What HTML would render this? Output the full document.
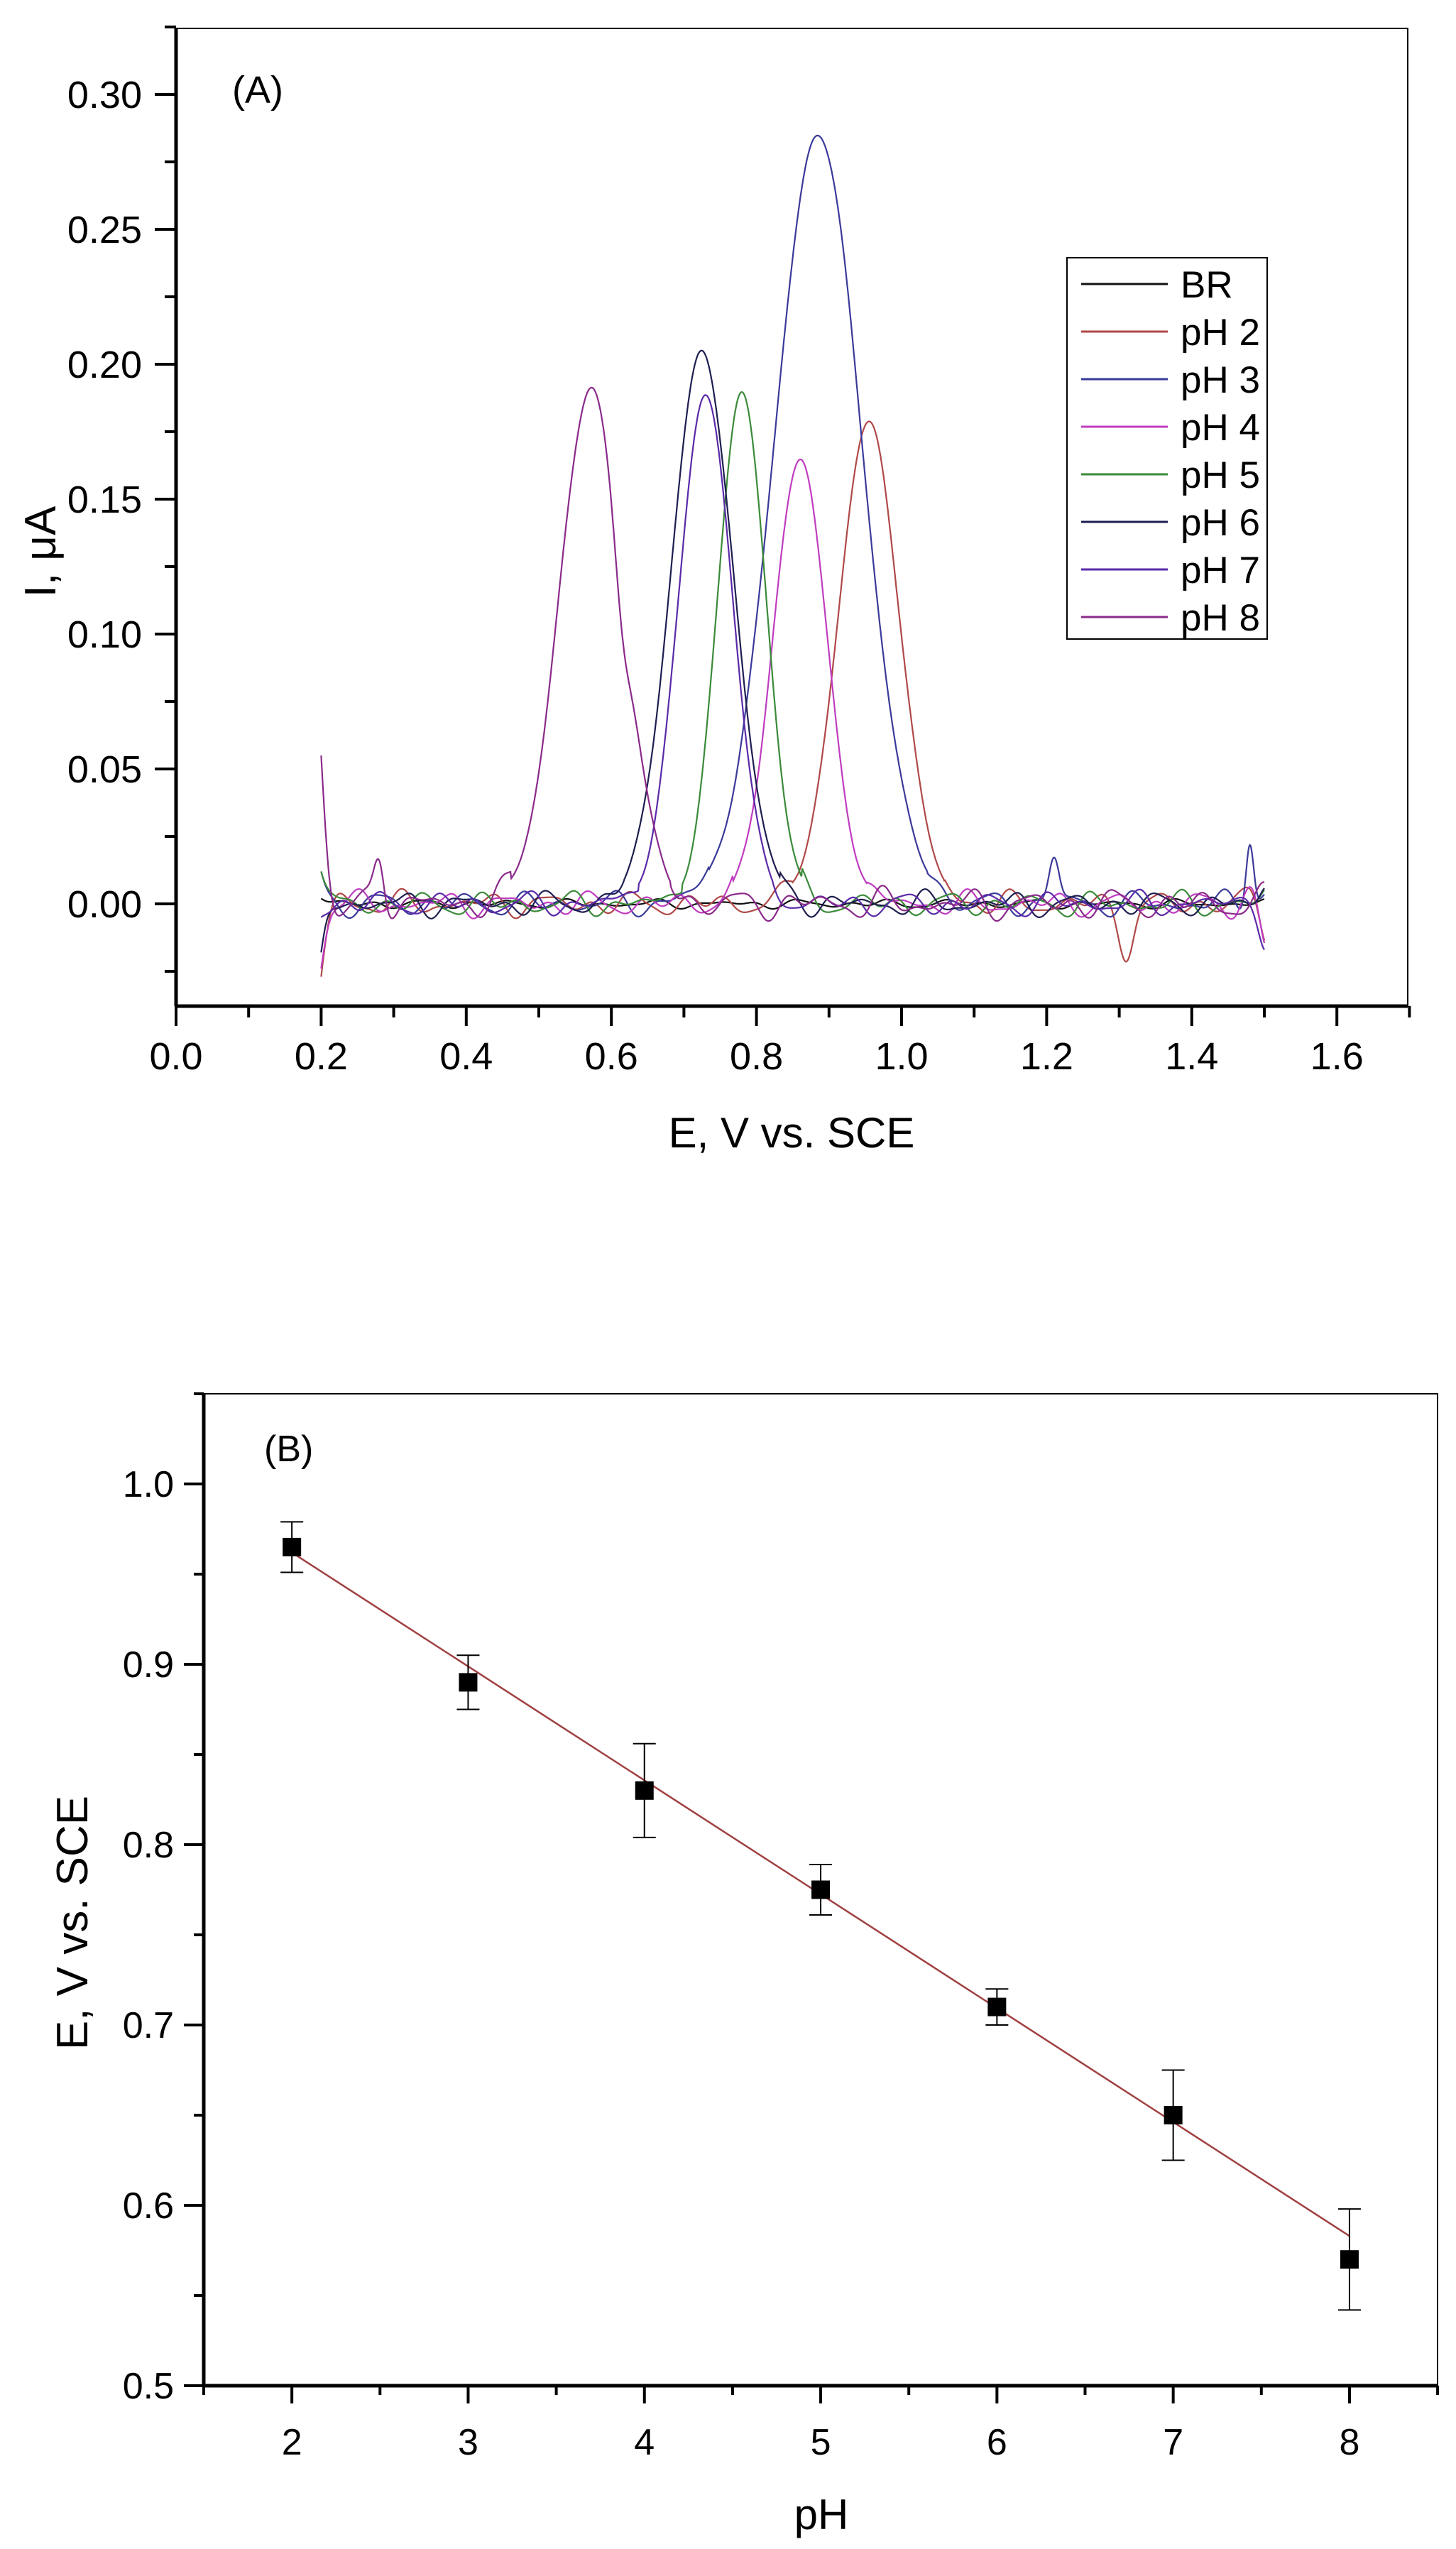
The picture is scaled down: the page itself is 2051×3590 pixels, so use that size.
<!DOCTYPE html>
<html><head><meta charset="utf-8"><style>
html,body{margin:0;padding:0;background:#fff;}
svg{display:block;font-family:"Liberation Sans",Arial,sans-serif;}
</style></head><body>
<svg id="s" width="2051" height="3590" viewBox="0 0 2051 3590" xmlns="http://www.w3.org/2000/svg">
<rect width="2051" height="3590" fill="#fff"/>
<g id="A"></g>
<g id="B"></g>
<!-- Chart A static -->
<rect x="248" y="40" width="1735" height="1377" fill="none" stroke="#000" stroke-width="2"/>
<line x1="248" y1="40" x2="248" y2="1417" stroke="#000" stroke-width="5"/>
<line x1="248" y1="1417" x2="1983" y2="1417" stroke="#000" stroke-width="5"/>
<text x="327" y="145" font-size="54">(A)</text>
<text x="1115" y="1616" font-size="60" text-anchor="middle">E, V vs. SCE</text>
<text transform="translate(78,777) rotate(-90)" font-size="62" text-anchor="middle">I, μA</text>
<rect x="1503" y="363" width="282" height="537" fill="#fff" stroke="#000" stroke-width="2"/>
<g id="L"></g>
<!-- Chart B static -->
<rect x="287" y="1963" width="1738" height="1397" fill="none" stroke="#000" stroke-width="2"/>
<line x1="287" y1="1963" x2="287" y2="3360" stroke="#000" stroke-width="5"/>
<line x1="287" y1="3360" x2="2025" y2="3360" stroke="#000" stroke-width="5"/>
<text x="372" y="2058" font-size="52">(B)</text>
<text x="1157" y="3562" font-size="60" text-anchor="middle">pH</text>
<text transform="translate(123,2708) rotate(-90)" font-size="62" text-anchor="middle">E, V vs. SCE</text>
</svg>
<script>
var NS="http://www.w3.org/2000/svg";
function el(p,t,a,txt){var e=document.createElementNS(NS,t);for(var k in a)e.setAttribute(k,a[k]);if(txt!=null)e.textContent=txt;p.appendChild(e);return e;}
var A=document.getElementById('A'),B=document.getElementById('B'),L=document.getElementById('L');
function ax(v){return 248+v*1022;} function ay(v){return 1273-v*3800;}
for(var i=0;i<=17;i++){var v=i*0.1,x=ax(v);var maj=i%2==0;
 el(A,'line',{x1:x,y1:1417,x2:x,y2:maj?1445:1433,stroke:'#000','stroke-width':4});
 if(maj) el(A,'text',{x:x,y:1506,'font-size':54,'text-anchor':'middle'},v.toFixed(1));}
for(var i=-1;i<=13;i++){var v=i*0.025,y=ay(v);var maj=(i%2==0);
 el(A,'line',{x1:248,y1:y,x2:maj?218:232,y2:y,stroke:'#000','stroke-width':4});
 if(maj&&i>=0) el(A,'text',{x:200,y:y+19,'font-size':54,'text-anchor':'end'},v.toFixed(2));}
var S=[
 ['BR','#111',0,0,0.03,0.0015,1],
 ['pH 2','#b04848',0.955,0.178,0.042,0.004,2],
 ['pH 3','#3a3a9a',0.885,0.285,0.06,0.004,3],
 ['pH 4','#c03cc0',0.860,0.165,0.037,0.004,4],
 ['pH 5','#3a8a3a',0.780,0.190,0.033,0.004,5],
 ['pH 6','#1e1e50',0.725,0.204,0.043,0.004,6],
 ['pH 7','#5a2aa8',0.730,0.189,0.037,0.004,7],
 ['pH 8','#8a2a8a',0.572,0.190,0.044,0.005,8]];
var start={0:0.002,1:-0.027,2:0.012,3:-0.024,4:0.012,5:-0.018,6:-0.005,7:0.055};
var ends={0:0,1:-0.012,2:0.004,3:-0.015,4:0.005,5:0.008,6:-0.016,7:0.002};
S.forEach(function(s,k){
 var d='';
 for(var j=0;j<=1300;j++){var x=0.2+j*0.001;
  var y=s[3]*Math.exp(-Math.pow(x-s[2],2)/(2*s[4]*s[4]));
  var n=s[5]*(Math.sin(x*60+k*1.7)*0.6+Math.sin(x*97+k*2.9)*0.5+Math.sin(x*143+k)*0.3);
  if(Math.abs(x-s[2])<2.5*s[4]) n*=0.3;
  y+=n;
  y+=(start[k]-n)*Math.exp(-(x-0.2)/0.012)*Math.cos((x-0.2)*90);
  y+=ends[k]*Math.exp(-(1.5-x)/0.02)*Math.cos((1.5-x)*120);
  if(k==7) y+=0.018*Math.exp(-Math.pow(x-0.28,2)/0.0001)-0.017*Math.exp(-Math.pow(x-0.615,2)/0.0002);
  if(k==2) y+=0.018*Math.exp(-Math.pow(x-1.21,2)/0.0001)+0.027*Math.exp(-Math.pow(x-1.48,2)/0.00006);
  if(k==1) y+=-0.017*Math.exp(-Math.pow(x-1.31,2)/0.0002);
  d+=(j?'L':'M')+ax(x).toFixed(1)+' '+ay(y).toFixed(1);}
 el(A,'path',{d:d,fill:'none',stroke:s[1],'stroke-width':2.2});
});
S.forEach(function(s,k){var y=400+k*67;
 el(L,'line',{x1:1523,y1:y,x2:1645,y2:y,stroke:s[1],'stroke-width':3});
 el(L,'text',{x:1663,y:y+19,'font-size':53},s[0]);});
function bx(v){return 287+(v-1.5)*248.3;} function by(v){return 2852-(v-0.7)*2540;}
for(var i=3;i<=17;i++){var v=i*0.5,x=bx(v);var maj=i%2==0;
 el(B,'line',{x1:x,y1:3360,x2:x,y2:maj?3385:3373,stroke:'#000','stroke-width':4});
 if(maj) el(B,'text',{x:x,y:3457,'font-size':52,'text-anchor':'middle'},String(v));}
for(var i=10;i<=21;i++){var v=i*0.05,y=by(v);var maj=i%2==0;
 el(B,'line',{x1:287,y1:y,x2:maj?259:273,y2:y,stroke:'#000','stroke-width':4});
 if(maj) el(B,'text',{x:245,y:y+18,'font-size':52,'text-anchor':'end'},v.toFixed(1));}
el(B,'line',{x1:bx(2),y1:by(0.962),x2:bx(8),y2:by(0.583),stroke:'#a04040','stroke-width':2.5});
var D=[[2,0.965,0.979,0.951],[3,0.89,0.905,0.875],[4,0.83,0.856,0.804],[5,0.775,0.789,0.761],[6,0.71,0.72,0.70],[7,0.65,0.675,0.625],[8,0.57,0.598,0.542]];
D.forEach(function(p){var x=bx(p[0]);
 el(B,'line',{x1:x,y1:by(p[2]),x2:x,y2:by(p[3]),stroke:'#000','stroke-width':2});
 el(B,'line',{x1:x-16,y1:by(p[2]),x2:x+16,y2:by(p[2]),stroke:'#000','stroke-width':2});
 el(B,'line',{x1:x-16,y1:by(p[3]),x2:x+16,y2:by(p[3]),stroke:'#000','stroke-width':2});
 el(B,'rect',{x:x-13,y:by(p[1])-13,width:26,height:26,fill:'#000'});
});
</script>
</body></html>
